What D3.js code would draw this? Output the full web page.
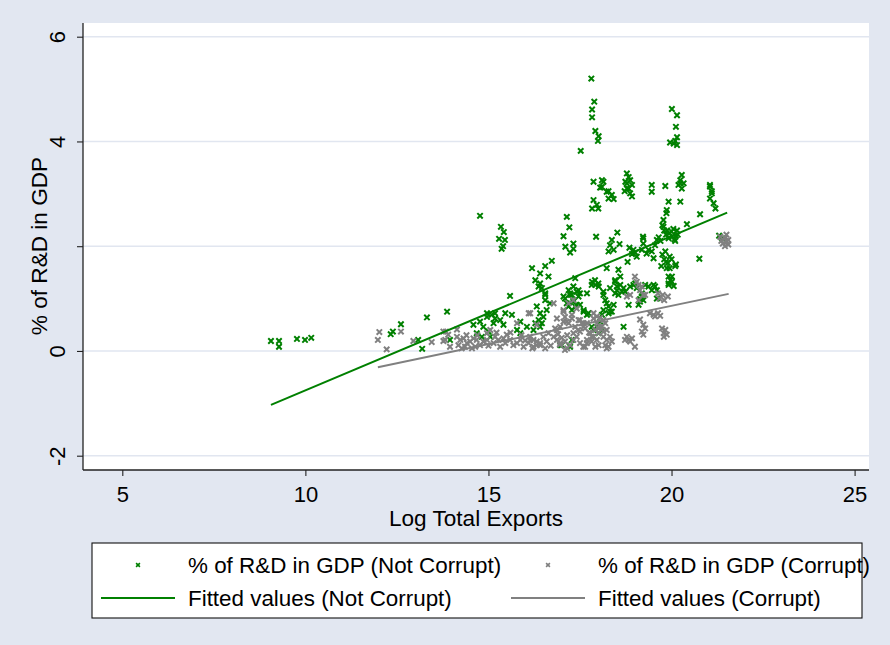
<!DOCTYPE html>
<html>
<head>
<meta charset="utf-8">
<script src="https://cdn.jsdelivr.net/npm/d3@7"></script>
<style>
  html, body { margin: 0; padding: 0; background: #e2e7f1; }
  svg { display: block; }
  text { font-family: "Liberation Sans", Arial, Helvetica, sans-serif; fill: #000; }
</style>
</head>
<body>
<svg id="chart" width="890" height="645"></svg>
<script>
// R&D share of GDP (%) against log total exports, split by corruption status
const notCorrupt = [
  [9.06,0.19],[9.28,0.19],[9.28,0.08],[9.77,0.23],[9.99,0.21],[10.16,0.25],
  [12.33,0.32],[12.39,0.37],[12.61,0.51],[13.08,0.21],[13.19,0.04],[13.32,0.64],[13.87,0.75],[13.95,0.21],
  [14.77,2.58],[15.29,2.14],[15.34,2.37],[15.42,2.27],[15.40,2.00],[15.45,2.12],[15.36,1.95],[15.59,1.05],
  [14.59,0.50],[14.77,0.56],[14.96,0.65],[15.09,0.69],[15.18,0.62],[15.32,0.59],[15.46,0.72],[15.64,0.69],
  [15.41,0.50],[15.14,0.53],[14.86,0.46],[15.00,0.37],[14.68,0.34],[15.05,0.27],[14.82,0.27],[14.96,0.72],[15.18,0.72],
  [15.87,0.56],[16.32,0.85],[16.41,0.72],[16.50,0.65],[16.37,0.59],[16.28,0.53],[16.46,0.53],[16.59,0.78],
  [16.68,0.91],[16.55,0.97],[16.41,0.46],[16.23,0.40],[16.05,0.46],[15.87,0.34],[15.78,0.40],[16.55,1.10],
  [17.09,1.00],[17.23,1.07],[17.32,0.97],[17.50,1.10],[17.41,0.88],[17.19,0.85],[17.28,0.78],[17.60,0.78],
  [17.69,0.69],[16.96,0.11],[17.28,0.21],[17.23,0.08],
  [17.87,3.23],[18.14,3.23],[18.05,3.12],[18.23,3.04],[18.37,2.98],[18.28,2.91],[18.42,2.90],[18.78,3.20],
  [18.83,3.10],[18.87,3.01],[18.92,2.95],[18.72,3.05],[19.46,3.17],[19.46,3.04],[19.83,3.15],[20.24,3.20],
  [20.28,3.10],[21.05,3.14],[21.10,3.01],[21.05,2.91],[21.15,2.82],[21.20,2.72],
  [17.87,2.88],[17.96,2.79],[17.83,2.72],[18.00,2.72],[19.92,2.85],[20.24,2.85],[19.87,2.69],[19.86,2.63],[20.78,2.61],
  [17.14,2.56],[17.21,2.36],[17.05,2.19],[17.10,1.99],[17.32,2.05],[17.23,1.88],[17.32,1.95],
  [17.94,2.18],[18.52,2.26],[18.37,2.12],[18.32,2.02],[18.58,2.04],[18.28,1.90],[18.42,1.93],
  [19.78,2.50],[19.78,2.37],[19.88,2.30],[19.95,2.25],[20.05,2.33],[20.12,2.20],[19.92,2.15],[20.00,2.28],
  [20.15,2.30],[20.08,2.13],[19.85,2.22],[20.42,2.42],
  [19.60,2.12],[19.65,2.17],[19.23,2.15],[19.23,2.05],[19.37,1.93],[18.96,1.93],[18.92,1.85],[19.01,1.88],
  [18.85,1.97],[19.05,1.80],[18.80,1.70],
  [19.51,1.77],[19.83,1.90],[19.75,1.84],[19.80,1.75],[19.90,1.68],[19.72,1.62],[19.87,1.58],[19.95,1.80],[20.10,1.62],
  [20.76,1.76],
  [16.19,1.58],[16.55,1.62],[16.73,1.72],[16.41,1.48],[16.64,1.42],[16.28,1.35],[16.41,1.29],[16.46,1.20],
  [16.37,1.23],[16.55,1.07],
  [17.37,1.39],[17.32,1.23],[17.46,1.16],[17.23,1.10],[17.91,1.35],[17.82,1.26],[18.00,1.29],
  [18.23,1.58],[18.55,1.55],[18.60,1.42],[18.46,1.35],[18.51,1.23],[18.69,1.20],[18.32,1.20],[18.87,1.23],
  [19.51,1.26],[19.60,1.16],[20.01,1.42],[20.01,1.32],[20.06,1.24],[18.14,1.13],[17.05,1.04],
  [17.81,5.20],[17.89,4.76],[17.83,4.61],[17.83,4.46],[17.92,4.20],[18.01,4.10],[17.99,4.01],[17.52,3.82],
  [20.01,4.62],[20.15,4.50],[20.12,4.28],[20.15,4.08],[19.96,3.98],[20.06,3.96],[20.15,3.93],[20.10,4.01],
  [18.10,3.26],[18.10,3.13],[18.28,3.05],
  [18.78,3.39],[18.83,3.32],[18.74,3.23],[18.87,3.26],[18.92,3.17],[18.78,3.10],
  [20.28,3.36],[20.24,3.26],[20.19,3.17],[20.33,3.20],[21.05,3.17],[21.10,3.05],
  [19.75,2.40],[19.80,2.30],[20.02,2.18],[20.10,2.10],[20.17,2.22],[19.70,2.10],
  [21.38,2.15],[21.30,2.20],
  [19.22,2.18],[19.55,2.02],[19.46,1.90],[19.32,1.86],[19.19,1.93],
  [19.85,1.70],[20.00,1.75],[20.12,1.65],[19.95,1.58],
  [19.97,1.35],[19.92,1.29],[19.55,1.23],
  [17.19,1.16],[17.28,1.07],[17.41,1.13],[17.46,1.04],[17.32,0.94],[17.14,0.91],[17.37,0.85],[17.50,0.88],
  [17.60,0.75],[17.92,1.26],[17.83,1.32],[18.01,1.23],[18.19,0.97],[18.28,0.85],[18.42,0.88],
  [18.32,0.75],[18.14,0.78],[18.10,0.69],[18.05,0.56],[17.96,0.46],[18.10,0.40],[18.01,0.34],[18.65,1.13],
  [18.55,1.07],[18.74,1.13],[18.96,1.26],[18.83,0.88],[18.69,0.46],[19.14,0.99],[19.23,0.97],[19.10,0.88],
  [19.19,1.10],[19.28,1.26],[19.46,1.16],[19.92,1.26],[17.00,0.11],
  [18.14,1.07],[18.46,1.32],[18.60,1.26],[18.51,1.16],[18.46,1.10],[19.01,1.29],[19.05,1.20],
  [19.19,1.04],[19.14,0.94],[19.37,1.23],[19.92,1.42],[19.60,1.00],[18.23,0.91],[18.37,0.75],[18.28,0.72],
  [17.69,1.10],[17.73,0.72],[17.82,0.46],[17.87,0.40]
];

const corrupt = [
  [12.02,0.36],[11.98,0.21],[12.22,0.03],[12.61,0.37],[12.95,0.19],[13.45,0.17],[13.77,0.19],[13.84,0.37],
  [14.14,0.41],[13.95,0.08],[13.77,0.37],[13.82,0.21],[13.90,0.31],
  [14.14,0.27],[14.23,0.21],[14.32,0.24],[14.41,0.15],[14.50,0.18],[14.59,0.24],[14.68,0.21],[14.36,0.08],
  [14.18,0.11],[14.27,0.05],[14.55,0.05],[14.64,0.08],[14.77,0.11],[14.86,0.18],[14.96,0.21],
  [14.96,0.34],[15.05,0.40],[15.18,0.27],[15.27,0.21],[15.14,0.15],[15.32,0.08],[15.46,0.15],[15.41,0.24],
  [15.50,0.31],[15.59,0.21],[15.68,0.11],[15.78,0.15],[15.87,0.21],[15.96,0.08],[16.10,0.15],[16.14,0.27],
  [16.23,0.21],[16.32,0.11],[16.41,0.15],[16.59,0.18],[16.50,0.27],[16.64,0.34],[16.78,0.27],[16.87,0.21],
  [16.96,0.15],[17.09,0.18],[17.23,0.11],[17.32,0.21],[17.41,0.27],[17.50,0.15],[17.59,0.08],[17.69,0.21],
  [15.78,0.53],[16.10,0.72],[16.32,0.50],[16.78,0.91],[16.87,0.62],[17.05,0.78],[17.19,0.91],[17.32,0.97],
  [17.41,0.81],[17.28,0.69],[17.14,0.56],[17.50,0.59],[17.59,0.46],[17.69,0.53],[16.96,0.46],[16.82,0.43],
  [16.14,0.72],
  [14.40,0.30],[14.70,0.30],[15.00,0.10],[15.22,0.35],[15.60,0.35],[15.90,0.30],[16.00,0.20],[16.20,0.05],
  [16.70,0.10],[16.90,0.32],[17.00,0.25],[17.15,0.30],[17.45,0.40],[17.75,0.35],
  [17.05,0.75],[17.09,0.65],[17.05,0.56],[17.19,0.53],[16.87,0.40],[17.28,0.62],[17.46,0.59],[17.55,0.53],
  [17.37,0.46],[17.64,0.43],[17.50,0.37],[17.32,0.34],[17.87,0.62],[17.96,0.53],[18.05,0.46],[17.91,0.40],
  [18.00,0.34],[17.82,0.27],
  [16.14,0.21],[16.32,0.18],[16.23,0.08],[16.41,0.11],[16.55,0.05],[16.95,0.12],[17.15,0.05],[17.09,0.02],
  [18.23,0.21],[18.28,0.08],[18.32,0.27],
  [18.78,1.04],[18.87,1.07],[19.10,1.26],[19.28,1.07],
  [19.63,1.10],[19.76,1.07],[19.90,1.04],[19.80,0.97],[19.67,1.00],
  [19.41,0.72],[19.51,0.69],[19.63,0.72],[19.55,0.66],[19.69,0.67],
  [19.14,0.60],[19.23,0.50],[19.28,0.43],[19.19,0.37],[19.23,0.31],
  [18.78,0.27],[18.92,0.24],[18.87,0.18],[18.83,0.21],[19.00,0.08],
  [19.74,0.43],[19.83,0.40],[19.79,0.34],[19.87,0.31],[19.79,0.27],
  [19.00,1.42],[19.05,1.32],[19.19,1.23],[19.14,1.16],[19.23,1.07],[19.10,0.97],
  [18.73,0.21],[18.14,0.27],[18.19,0.11],[18.37,0.18],[18.23,0.05],
  [17.60,0.53],[17.78,0.34],[17.87,0.27],[17.82,0.18],[17.96,0.21],[18.01,0.11],[17.69,0.15],[17.92,0.08],
  [17.64,0.08],
  [17.87,0.72],[17.96,0.66],[18.05,0.63],[18.14,0.59],[18.19,0.53],[18.10,0.47],[18.01,0.43],[18.23,0.40],
  [18.14,0.37],
  [21.33,2.18],[21.46,2.15],[21.51,2.09],[21.55,2.03],[21.46,2.00],[21.50,2.22],[21.40,2.05],[21.55,2.12],
  [21.36,2.10]
];

// Linear fit endpoints for each group
const fitNotCorrupt = [[9.06,-1.03],[21.52,2.64]];
const fitCorrupt = [[11.98,-0.31],[21.56,1.09]];

const xTicks = [5,10,15,20,25];
const yTicks = [-2,0,2,4,6];
const yTickLabels = ["-2","0","","4","6"];
const xTitle = "Log Total Exports";
const yTitle = "% of R&D in GDP";
const legendLabels = [
  "% of R&D in GDP (Not Corrupt)",
  "% of R&D in GDP (Corrupt)",
  "Fitted values (Not Corrupt)",
  "Fitted values (Corrupt)"
];

const GREEN = "#008000";
const GRAY = "#808080";
const FONT = "'Liberation Sans', Arial, sans-serif";

const svg = d3.select("#chart");
const plot = { left: 83, right: 869, top: 23, bottom: 470 };

const x = d3.scaleLinear().domain([5, 25]).range([122.3, 854.6]);
const y = d3.scaleLinear().domain([-2, 6]).range([455.7, 36.7]);

// white plot region
svg.append("rect")
  .attr("x", plot.left).attr("y", plot.top)
  .attr("width", plot.right - plot.left).attr("height", plot.bottom - plot.top)
  .attr("fill", "#fff");

// horizontal grid
svg.append("g").selectAll("line").data(yTicks).join("line")
  .attr("x1", plot.left).attr("x2", plot.right)
  .attr("y1", d => y(d)).attr("y2", d => y(d))
  .attr("stroke", "#e1e6f0").attr("stroke-width", 1.6);

// y axis
const yAxis = svg.append("g")
  .attr("transform", `translate(${plot.left},0)`)
  .call(d3.axisLeft(y).tickValues(yTicks).tickSize(6).tickSizeOuter(0)
    .tickFormat(d => yTickLabels[yTicks.indexOf(d)]));
yAxis.select(".domain").attr("d", `M0,${plot.top}V${plot.bottom}`).attr("stroke", "#222").attr("stroke-width", 1.3);
yAxis.selectAll(".tick line").attr("stroke", "#222").attr("stroke-width", 1.1);
yAxis.selectAll(".tick text")
  .attr("x", null).attr("dy", null)
  .attr("transform", "translate(-18.5,0) rotate(-90)")
  .attr("text-anchor", "middle")
  .style("font-size", "22px").style("font-family", FONT).attr("fill", "#000");

// x axis
const xAxis = svg.append("g")
  .attr("transform", `translate(0,${plot.bottom})`)
  .call(d3.axisBottom(x).tickValues(xTicks).tickSize(6).tickSizeOuter(0).tickFormat(d => String(d)));
xAxis.select(".domain").attr("d", `M${plot.left},0H${plot.right}`).attr("stroke", "#222").attr("stroke-width", 1.3);
xAxis.selectAll(".tick line").attr("stroke", "#222").attr("stroke-width", 1.1);
xAxis.selectAll(".tick text")
  .attr("y", 31.5).attr("dy", null)
  .style("font-size", "22px").style("font-family", FONT).attr("fill", "#000");

// axis titles
svg.append("text")
  .attr("x", 476).attr("y", 526)
  .attr("text-anchor", "middle")
  .style("font-size", "22.6px")
  .text(xTitle);
svg.append("text")
  .attr("transform", "translate(47,246) rotate(-90)")
  .attr("text-anchor", "middle")
  .style("font-size", "22.6px")
  .text(yTitle);

// x-shaped marker
const cross = s => `M${-s},${-s}L${s},${s}M${-s},${s}L${s},${-s}`;

const marks = svg.append("g");
function scatter(data, color) {
  marks.append("g").selectAll("path").data(data).join("path")
    .attr("transform", d => `translate(${x(d[0])},${y(d[1])})`)
    .attr("d", cross(2.7))
    .attr("fill", "none")
    .attr("stroke", color)
    .attr("stroke-width", 2);
}
scatter(notCorrupt, GREEN);
scatter(corrupt, GRAY);

const line = d3.line().x(d => x(d[0])).y(d => y(d[1]));
marks.append("path").datum(fitNotCorrupt).attr("d", line)
  .attr("fill", "none").attr("stroke", GREEN).attr("stroke-width", 2);
marks.append("path").datum(fitCorrupt).attr("d", line)
  .attr("fill", "none").attr("stroke", GRAY).attr("stroke-width", 2);

// legend
const lg = svg.append("g");
lg.append("rect")
  .attr("x", 92).attr("y", 543).attr("width", 770).attr("height", 75)
  .attr("fill", "#fff").attr("stroke", "#111").attr("stroke-width", 1.1);

const rowY = [565, 598];
const colX = [92, 502];
const items = [
  { type: "marker", color: GREEN, label: legendLabels[0], col: 0, row: 0 },
  { type: "marker", color: GRAY, label: legendLabels[1], col: 1, row: 0 },
  { type: "line", color: GREEN, label: legendLabels[2], col: 0, row: 1 },
  { type: "line", color: GRAY, label: legendLabels[3], col: 1, row: 1 }
];
items.forEach(it => {
  const x0 = colX[it.col];
  const cy = rowY[it.row];
  if (it.type === "marker") {
    lg.append("path")
      .attr("transform", `translate(${x0 + 46},${cy})`)
      .attr("d", cross(1.9))
      .attr("fill", "none").attr("stroke", it.color).attr("stroke-width", 1.6);
  } else {
    lg.append("line")
      .attr("x1", x0 + 9).attr("x2", x0 + 83)
      .attr("y1", cy).attr("y2", cy)
      .attr("stroke", it.color).attr("stroke-width", 2);
  }
  lg.append("text")
    .attr("x", x0 + 96).attr("y", cy + 8)
    .style("font-size", "22.4px")
    .text(it.label);
});
</script>
</body>
</html>
